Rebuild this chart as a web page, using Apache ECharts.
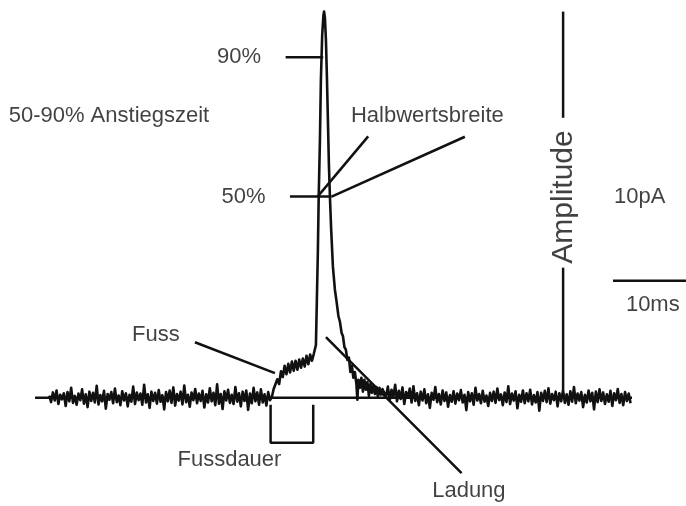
<!DOCTYPE html>
<html>
<head>
<meta charset="utf-8">
<script src="https://cdn.jsdelivr.net/npm/echarts@6/dist/echarts.min.js"></script>
<style>
  html, body { margin: 0; padding: 0; background: #fff; }
  #chart { width: 686px; height: 506px; }
</style>
</head>
<body>
<div id="chart"></div>
<script>
// time in ms, amplitude in % of the peak (baseline = 0)
const dt = 0.25;

const preStart = 6.75;
const preNoise = [
  0.6, -1.1, 1.4, -0.7, 1.9, -1.6, 0.8, -0.4, 1.2, -2.1, 1.5, -0.9, 2.6, -1.3, 0.5, -1.8, 1.1, -0.6, 2.2, -1.5,
  0.9, -2.4, 1.6, -0.8, 1.3, -1.2, 3.1, -1.7, 0.7, -0.9, 1.8, -2.8, 1.0, -0.5, 1.5, -1.4, 2.4, -1.1, 0.6, -1.9,
  1.7, -0.7, 1.2, -2.2, 0.8, -1.0, 2.9, -1.6, 1.4, -0.6, 1.1, -1.8, 3.4, -1.2, 0.9, -2.6, 1.6, -0.8, 1.3, -1.5,
  2.0, -1.0, 0.7, -3.0, 1.5, -0.9, 1.9, -1.3, 2.7, -2.0, 1.0, -0.7, 1.6, -1.7, 3.2, -1.1, 0.8, -2.3, 1.4, -0.6,
  2.3, -1.4, 1.1, -0.8, 1.8, -2.5, 0.9, -1.2, 2.5, -0.9, 1.3, -1.9, 3.5, -1.5, 1.0, -2.9, 1.7, -0.7, 2.1, -1.3,
  0.8, -1.6, 2.8, -1.0, 1.2, -2.2, 1.6, -0.8, 1.9, -3.1, 1.1, -1.4, 2.6, -0.9, 1.4, -1.8, 2.2, -1.2, 0.9, -2.0, 1.5, -0.6
];

const footStart = 37.25;
const footAmp = [
  0.2, 2.3, 1.9, 4.8, 3.6, 6.9, 5.4, 8.3, 6.1, 8.8, 6.6, 9.4,
  7.0, 9.6, 7.3, 9.9, 7.8, 10.2, 8.1, 10.9, 8.7, 11.2, 9.6, 11.4
];

// rise, peak and decay
const eventTime = [
  43.15, 43.29, 43.42, 43.56, 43.67, 43.84, 43.97, 44.15, 44.32, 44.41, 44.52, 44.66, 44.79,
  44.93, 45.07, 45.21, 45.38, 45.62, 45.89, 46.12, 46.37, 46.58, 46.81, 46.99, 47.19, 47.40,
  47.60, 47.81, 48.01, 48.22, 48.42, 48.63, 48.84, 48.97, 49.11, 49.32, 49.52, 49.73, 49.93,
  50.14, 50.34, 50.55, 50.75, 50.96, 51.16, 51.37, 51.58, 51.78, 51.99, 52.19, 52.40
];
const eventAmp = [
  11.6, 13.7, 25.4, 38.3, 52.0, 66.8, 82.3, 94.0, 99.1, 100, 98.4, 92.7, 83.6,
  72.0, 60.3, 52.0, 43.5, 33.9, 28.0, 24.9, 21.2, 19.7, 16.8, 16.0, 13.2, 12.4,
  9.8, 10.4, 6.7, 8.3, 5.2, 6.7, 3.4, -0.5, 4.7, 2.6, 5.2, 1.6, 4.7,
  2.1, 4.1, 0.5, 3.6, 1.3, 3.1, 1.0, 2.8, 0.3, 2.6, 0.8, 2.3
];

const postStart = 52.65;
const postNoise = [
  2.3, 0.4, 2.9, -0.6, 2.1, 0.2, 3.4, -0.9, 1.8, -0.3, 2.7, -1.6, 1.5, 0.1, 2.4, -1.2, 3.0, -0.8, 1.2, -1.9,
  1.6, -0.7, 2.2, -1.4, 0.9, -2.6, 1.3, -0.5, 2.8, -1.1, 1.0, -1.7, 1.9, -0.8, 1.4, -2.3, 0.7, -1.0, 1.7, -1.5,
  1.1, -0.6, 2.0, -1.2, 0.8, -3.2, 1.5, -0.9, 1.2, -1.8, 2.6, -0.7, 1.0, -1.4, 1.8, -1.0, 0.6, -2.1, 1.3, -0.8,
  1.6, -1.3, 2.4, -0.6, 0.9, -1.9, 1.4, -1.1, 3.0, -1.6, 1.1, -0.7, 1.7, -2.7, 0.8, -1.0, 1.9, -1.4, 1.2, -0.9,
  2.1, -1.7, 0.7, -1.2, 1.5, -3.3, 1.3, -0.8, 1.8, -1.1, 2.5, -1.5, 1.0, -0.6, 1.6, -2.2, 1.2, -0.9, 2.0, -1.3,
  0.9, -1.8, 1.7, -1.0, 2.8, -1.4, 1.1, -0.7, 1.5, -2.4, 0.8, -1.2, 1.9, -0.9, 1.3, -3.0, 1.6, -1.1, 2.2, -0.8,
  1.4, -1.6, 0.9, -1.0, 1.8, -2.1, 1.2, -0.6, 2.3, -1.3, 1.0, -1.9, 1.5, -0.8, 1.1, -1.4
];

// annotation segments [ms, %]
const baseline = [[4.8, 0], [86.6, 0]];
const tick90 = [[39.14, 88.2], [44.29, 88.2]];
const tick50 = [[39.73, 52.1], [45.44, 52.1]];
const halfWidthA = [[43.52, 52.1], [50.45, 67.7]];
const halfWidthB = [[45.44, 52.1], [63.7, 67.6]];
const footPointer = [[26.71, 14.4], [37.67, 6.4]];
const chargePointer = [[44.66, 15.7], [63.25, -19.5]];
const footBracket = [[37.08, -1.8], [37.08, -11.6], [42.92, -11.6], [42.92, -1.8]];
const amplitudeTop = [[77.16, 100], [77.16, 72.5]];
const amplitudeBottom = [[77.16, 33.7], [77.16, 2.1]];
const scaleBarMs = [[84, 30.3], [94, 30.3]];

const labels = [
  [32.74, 88.2, "90%"],
  [33.36, 52.0, "50%"],
  [14.93, 73.0, "50-90% Anstiegszeit"],
  [58.56, 73.0, "Halbwertsbreite"],
  [21.37, 16.3, "Fuss"],
  [31.44, -16.0, "Fussdauer"],
  [64.25, -24.1, "Ladung"],
  [87.67, 52.0, "10pA"],
  [89.45, 24.1, "10ms"]
];
const verticalLabels = [[77.26, 52.0, "Amplitude"]];

const trace = []
  .concat(preNoise.map((v, i) => [preStart + i * dt, v]))
  .concat(footAmp.map((v, i) => [footStart + i * dt, v]))
  .concat(eventTime.map((t, i) => [t, eventAmp[i]]))
  .concat(postNoise.map((v, i) => [postStart + i * dt, v]));

const ink = "#111";
const font = "Arial, 'Liberation Sans', sans-serif";

const segments = [
  baseline, tick90, tick50, halfWidthA, halfWidthB, footPointer,
  chargePointer, footBracket, amplitudeTop, amplitudeBottom, scaleBarMs
];

const chart = echarts.init(document.getElementById("chart"));

chart.setOption({
  animation: false,
  grid: { left: 0, right: 0, top: 0, bottom: 0 },
  xAxis: { type: "value", min: 0, max: 94, show: false },
  yAxis: { type: "value", min: -28, max: 103, show: false },
  series: [
    ...segments.map((seg) => ({
      type: "line",
      data: seg,
      symbol: "none",
      lineStyle: { color: ink, width: 2.5 },
      z: 2
    })),
    {
      type: "line",
      data: trace,
      symbol: "none",
      lineStyle: { color: ink, width: 2.6, join: "round" },
      z: 3
    },
    {
      type: "scatter",
      data: labels.map((l) => ({ value: [l[0], l[1]], name: l[2] })),
      symbolSize: 0,
      label: {
        show: true,
        position: "inside",
        formatter: (p) => p.name,
        color: ink,
        textBorderWidth: 0,
        fontFamily: font,
        fontSize: 22
      },
      z: 4
    },
    {
      type: "scatter",
      data: verticalLabels.map((l) => ({ value: [l[0], l[1]], name: l[2] })),
      symbolSize: 0,
      label: {
        show: true,
        position: "inside",
        rotate: 90,
        formatter: (p) => p.name,
        color: ink,
        textBorderWidth: 0,
        fontFamily: font,
        fontSize: 30
      },
      z: 4
    }
  ]
});
</script>
</body>
</html>
